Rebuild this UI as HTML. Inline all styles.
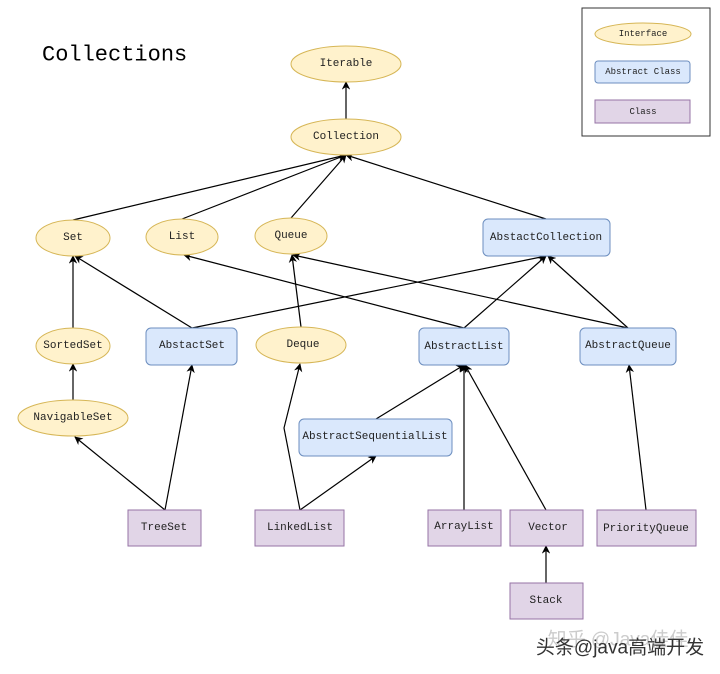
<!DOCTYPE html>
<html><head><meta charset="utf-8"><style>
html,body{margin:0;padding:0;background:#fff;}
svg{display:block;}
text{font-family:"Liberation Mono",monospace;font-size:11px;fill:#222;text-anchor:middle;dominant-baseline:central;}
.i{fill:#fff2cc;stroke:#d6b656;stroke-width:1;}
.a{fill:#dae8fc;stroke:#6c8ebf;stroke-width:1;}
.c{fill:#e1d5e7;stroke:#9673a6;stroke-width:1;}
.e{stroke:#000;stroke-width:1.2;fill:none;marker-end:url(#ar);}
</style></head><body>
<svg width="720" height="674" viewBox="0 0 720 674" xmlns="http://www.w3.org/2000/svg">
<defs><marker id="ar" viewBox="0 0 10 10" refX="9" refY="5" markerWidth="7" markerHeight="7" orient="auto"><path d="M0,0 L10,5 L0,10 L3,5 z" fill="#000"/></marker></defs>
<text x="42" y="55" style="font-size:22px;text-anchor:start;fill:#000">Collections</text>
<rect x="582" y="8" width="128" height="128" fill="#fff" stroke="#333" stroke-width="1"/>
<ellipse class="i" cx="643" cy="34" rx="48" ry="11"/><text x="643" y="34" style="font-size:9px">Interface</text>
<rect class="a" x="595" y="61" width="95" height="22" rx="3"/><text x="643" y="72" style="font-size:9px">Abstract Class</text>
<rect class="c" x="595" y="100" width="95" height="23"/><text x="643" y="112" style="font-size:9px">Class</text>

<line class="e" x1="346" y1="119" x2="346" y2="82"/>
<line class="e" x1="73" y1="220" x2="346" y2="155"/>
<line class="e" x1="182" y1="219" x2="346" y2="155"/>
<line class="e" x1="291" y1="218" x2="346" y2="155"/>
<line class="e" x1="546" y1="219" x2="346" y2="155"/>
<line class="e" x1="73" y1="328" x2="73" y2="256"/>
<line class="e" x1="192" y1="328" x2="75" y2="256"/>
<line class="e" x1="192" y1="328" x2="546" y2="256"/>
<line class="e" x1="301" y1="327" x2="292" y2="255"/>
<line class="e" x1="464" y1="328" x2="184" y2="255"/>
<line class="e" x1="464" y1="328" x2="546" y2="256"/>
<line class="e" x1="628" y1="328" x2="293" y2="255"/>
<line class="e" x1="628" y1="328" x2="548" y2="256"/>
<line class="e" x1="73" y1="400" x2="73" y2="364"/>
<line class="e" x1="165" y1="510" x2="75" y2="437"/>
<line class="e" x1="165" y1="510" x2="192" y2="365"/>
<path class="e" d="M300,510 L284,428 L300,364"/>
<line class="e" x1="300" y1="510" x2="376" y2="456"/>
<line class="e" x1="376" y1="419" x2="464" y2="365"/>
<line class="e" x1="464" y1="510" x2="464" y2="365"/>
<line class="e" x1="546" y1="510" x2="465" y2="365"/>
<line class="e" x1="646" y1="510" x2="629" y2="365"/>
<line class="e" x1="546" y1="583" x2="546" y2="546"/>

<ellipse class="i" cx="346" cy="64" rx="55" ry="18"/><text x="346" y="64">Iterable</text>
<ellipse class="i" cx="346" cy="137" rx="55" ry="18"/><text x="346" y="137">Collection</text>
<ellipse class="i" cx="73" cy="238" rx="37" ry="18"/><text x="73" y="238">Set</text>
<ellipse class="i" cx="182" cy="237" rx="36" ry="18"/><text x="182" y="237">List</text>
<ellipse class="i" cx="291" cy="236" rx="36" ry="18"/><text x="291" y="236">Queue</text>
<rect class="a" x="483" y="219" width="127" height="37" rx="5"/><text x="546" y="238">AbstactCollection</text>
<ellipse class="i" cx="73" cy="346" rx="37" ry="18"/><text x="73" y="346">SortedSet</text>
<rect class="a" x="146" y="328" width="91" height="37" rx="5"/><text x="192" y="346">AbstactSet</text>
<ellipse class="i" cx="301" cy="345" rx="45" ry="18"/><text x="303" y="345">Deque</text>
<rect class="a" x="419" y="328" width="90" height="37" rx="5"/><text x="464" y="347">AbstractList</text>
<rect class="a" x="580" y="328" width="96" height="37" rx="5"/><text x="628" y="346">AbstractQueue</text>
<ellipse class="i" cx="73" cy="418" rx="55" ry="18"/><text x="73" y="418">NavigableSet</text>
<rect class="a" x="299" y="419" width="153" height="37" rx="5"/><text x="375" y="437">AbstractSequentialList</text>
<rect class="c" x="128" y="510" width="73" height="36"/><text x="164" y="528">TreeSet</text>
<rect class="c" x="255" y="510" width="89" height="36"/><text x="300" y="528">LinkedList</text>
<rect class="c" x="428" y="510" width="73" height="36"/><text x="464" y="527">ArrayList</text>
<rect class="c" x="510" y="510" width="73" height="36"/><text x="548" y="528">Vector</text>
<rect class="c" x="597" y="510" width="99" height="36"/><text x="646" y="529">PriorityQueue</text>
<rect class="c" x="510" y="583" width="73" height="36"/><text x="546" y="601">Stack</text>
<text x="618" y="640" style="font-family:'Liberation Sans','Noto Sans CJK SC',sans-serif;font-size:19px;fill:#ccc;">知乎 @Java佳佳</text>
<text x="620" y="648" style="font-family:'Liberation Sans','Noto Sans CJK SC',sans-serif;font-size:19px;fill:#333;">头条@java高端开发</text>
</svg>
</body></html>
